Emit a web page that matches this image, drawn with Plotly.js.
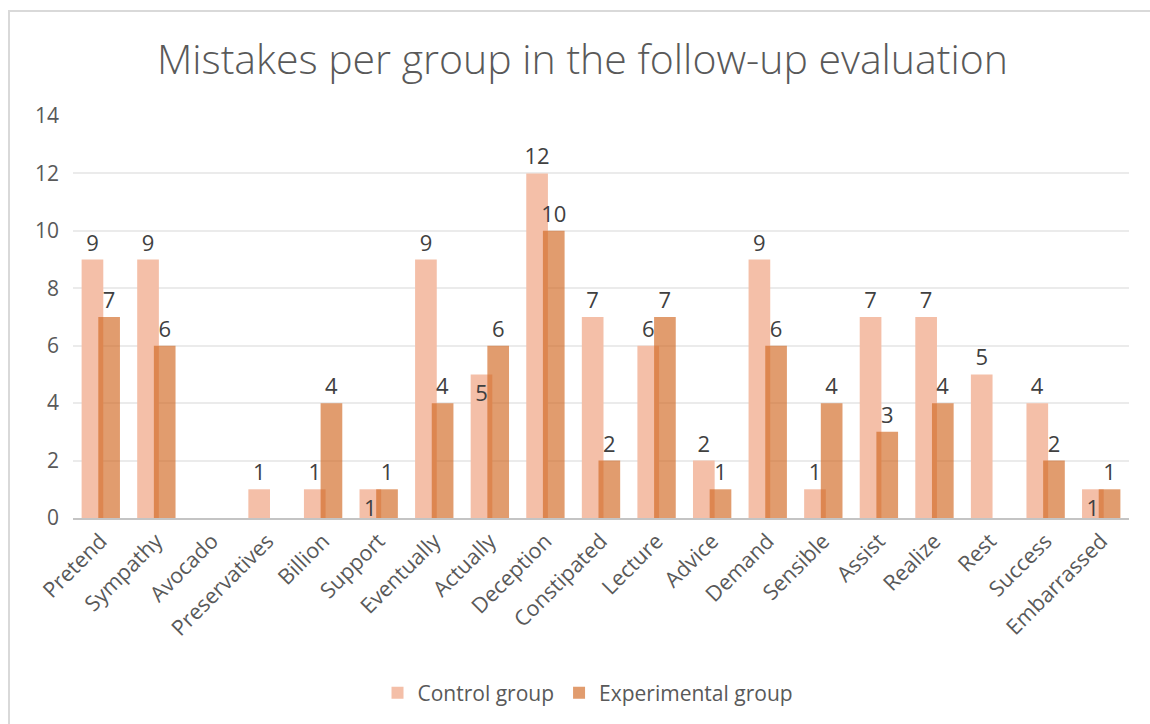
<!DOCTYPE html>
<html>
<head>
<meta charset="utf-8">
<script src="https://cdn.plot.ly/plotly-3.0.1.min.js"></script>
<style>
  html, body { margin: 0; padding: 0; background: #ffffff; overflow: hidden; }
  #wrap { position: relative; width: 1150px; height: 724px; overflow: hidden; }
  #chart { position: absolute; left: 0; top: 0; width: 1150px; height: 724px; }
  #frame { position: absolute; left: 8px; top: 10px; width: 1200px; height: 800px;
           border: 2px solid #D9D9D9; pointer-events: none; }
</style>
</head>
<body>
<div id="wrap">
  <div id="chart"></div>
  <div id="frame"></div>
</div>
<script>
const categories = ["Pretend", "Sympathy", "Avocado", "Preservatives", "Billion", "Support",
  "Eventually", "Actually", "Deception", "Constipated", "Lecture", "Advice", "Demand",
  "Sensible", "Assist", "Realize", "Rest", "Success", "Embarrassed"];
const controlGroup = [9, 9, null, 1, 1, 1, 9, 5, 12, 7, 6, 2, 9, 1, 7, 7, 5, 4, 1];
const experimentalGroup = [7, 6, null, null, 4, 1, 4, 6, 10, 2, 7, 1, 6, 4, 3, 4, null, 2, 1];
const controlLabelPlacement = ["outside", "outside", "none", "outside", "outside", "inside",
  "outside", "inside", "outside", "outside", "outside", "outside", "outside", "outside",
  "outside", "outside", "outside", "outside", "inside"];
const yTicks = [0, 2, 4, 6, 8, 10, 12, 14];

const FONT = "'Open Sans', Lato, sans-serif";
const labelFont = {family: FONT, size: 22, color: "#404040"};

const traces = [
  {
    type: "bar", name: "Control group", x: categories, y: controlGroup,
    offset: -0.345, width: 0.39,
    marker: {color: "#F4BFA8", line: {width: 0}},
    text: controlGroup.map(v => v == null ? "" : String(v)),
    textposition: controlLabelPlacement,
    insidetextanchor: "end",
    textfont: labelFont, insidetextfont: labelFont, outsidetextfont: labelFont,
    cliponaxis: false, constraintext: "none",
    hoverinfo: "x+y+name"
  },
  {
    type: "bar", name: "Experimental group", x: categories, y: experimentalGroup,
    offset: -0.045, width: 0.39,
    marker: {color: "rgba(210,105,35,0.66)", line: {width: 0}},
    text: experimentalGroup.map(v => v == null ? "" : String(v)),
    textposition: "outside",
    textfont: labelFont, outsidetextfont: labelFont,
    cliponaxis: false, constraintext: "none",
    hoverinfo: "x+y+name"
  }
];

const layout = {
  width: 1150, height: 724,
  margin: {l: 73, r: 21, t: 116, b: 205},
  paper_bgcolor: "rgba(0,0,0,0)", plot_bgcolor: "#ffffff",
  barmode: "overlay",
  title: {
    text: "Mistakes per group in the follow-up evaluation",
    font: {family: FONT, size: 41, color: "#595959", weight: 300},
    x: 0.5065, xanchor: "center", xref: "container",
    y: 0.917, yanchor: "middle", yref: "container"
  },
  xaxis: {
    type: "category",
    tickangle: -45,
    tickfont: {family: FONT, size: 21.5, color: "#595959"},
    showline: true, linecolor: "#C4C4C4", linewidth: 2,
    showgrid: false, ticks: "", automargin: false
  },
  yaxis: {
    range: [0, 14], tickvals: yTicks, ticktext: yTicks.map(String),
    tickfont: {family: FONT, size: 21, color: "#595959"},
    showgrid: true, gridcolor: "#EBEBEB", gridwidth: 1.5,
    zeroline: false, showline: false, ticks: "",
    ticklabelstandoff: 13, automargin: false
  },
  legend: {
    orientation: "h", x: 0.4877, xanchor: "center", y: -0.432, yanchor: "middle",
    font: {family: FONT, size: 21, color: "#595959"},
    itemwidth: 30, tracegroupgap: 0, traceorder: "normal"
  },
  showlegend: true
};

Plotly.newPlot("chart", traces, layout, {displayModeBar: false, responsive: false});
</script>
</body>
</html>
